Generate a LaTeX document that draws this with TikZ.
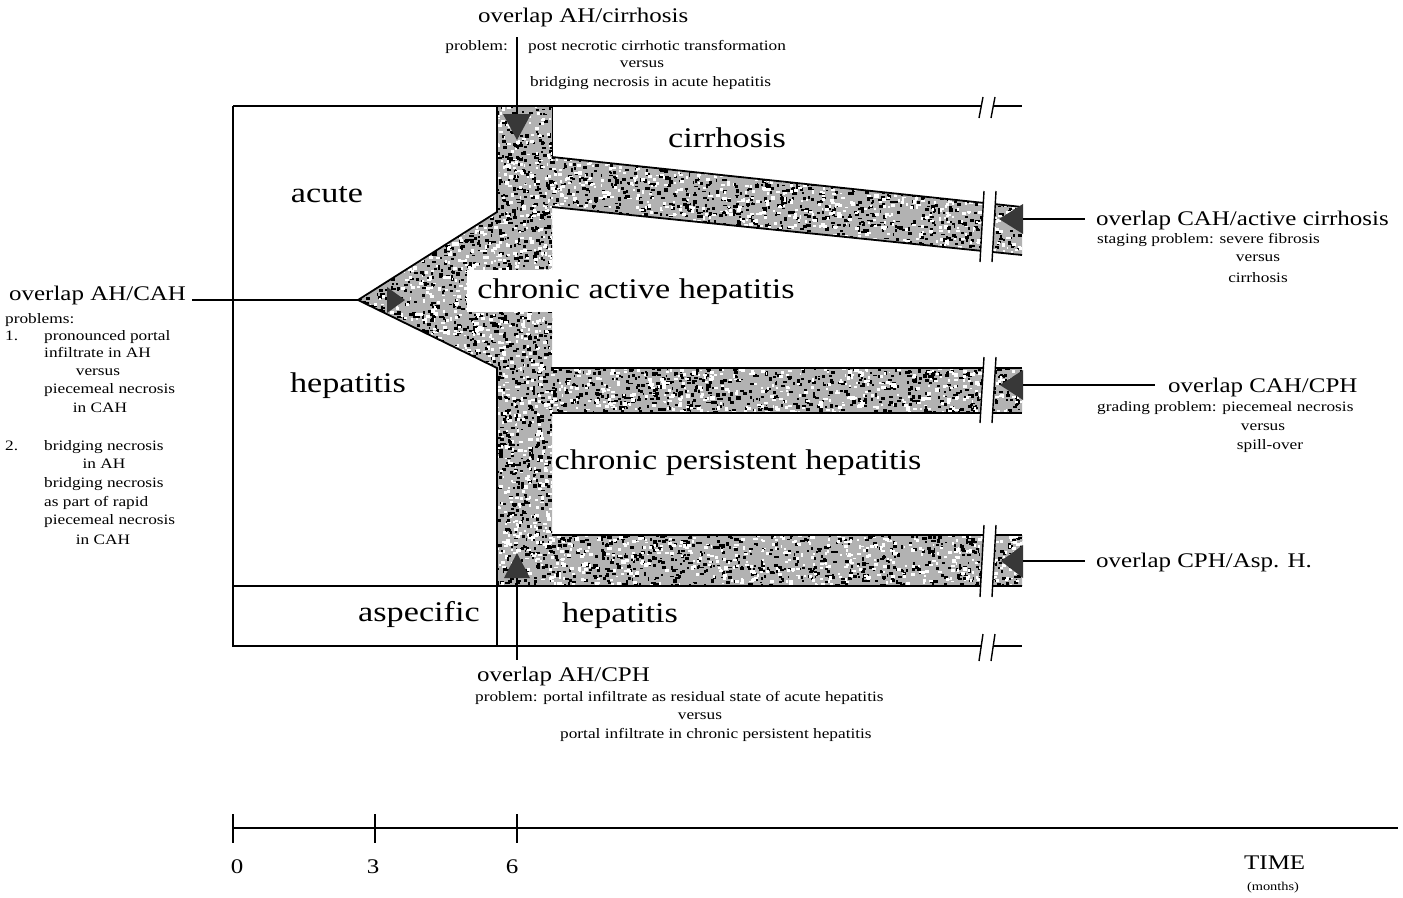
\documentclass[tikz,border=0pt]{standalone}
\usepackage{fontspec}
\setmainfont{Liberation Serif}[FakeStretch=1.2]
\newcommand{\mybreak}[3]{%
  \fill[white] ({#1-3},{#2}) -- ({#1+9},{#2}) -- ({#1+5},{#3}) -- ({#1-7},{#3}) -- cycle;
  \draw[brk] ({#1-3},{#2}) -- ({#1-7},{#3}) ({#1+9},{#2}) -- ({#1+5},{#3});}
\newcommand{\speckbox}[6]{% x0 y0 w h nblack nwhite
  \foreach \i in {1,...,#5}{\fill[black] ({#1+#3*rnd},{#2+#4*rnd}) rectangle ++({1.5+3*rnd},{1.5+2.2*rnd});}
  \foreach \i in {1,...,#6}{\fill[white] ({#1+#3*rnd},{#2+#4*rnd}) rectangle ++({1.5+2.8*rnd},{1.5+2*rnd});}}
\begin{document}
\begin{tikzpicture}[x=1pt,y=-1pt,
  big/.style={font=\fontsize{28.5}{34}\selectfont,inner sep=0pt},
  med/.style={font=\fontsize{20.8}{25}\selectfont,inner sep=0pt},
  sml/.style={font=\fontsize{14.4}{17}\selectfont,inner sep=0pt},
  tny/.style={font=\fontsize{12}{14}\selectfont,inner sep=0pt},
  frame/.style={line width=1.8pt},
  edge/.style={line width=1.8pt},
  conn/.style={line width=1.3pt},
  brk/.style={line width=1.4pt},
  tri/.style={fill=black!78}]
\useasboundingbox (0,0) rectangle (1403,897);
\pgfmathsetseed{4711}
\def\region{(497,106) -- (552,106) -- (552,157) -- (1022,207) -- (1022,255) -- (552,207) -- (552,368) -- (1022,368) -- (1022,413) -- (552,413) -- (552,535) -- (1022,535) -- (1022,586) -- (497,586) -- (497,368) -- (358,300) -- (497,212) -- cycle}
% stippled region
\fill[black!30] \region;
\begin{scope}
  \clip \region;
  \speckbox{356}{104}{198}{484}{2600}{1900}
  \speckbox{550}{155}{474}{102}{1300}{950}
  \speckbox{550}{366}{474}{49}{640}{460}
  \speckbox{550}{533}{474}{55}{710}{510}
\end{scope}
% white label box over the trunk
\node[big,fill=white,inner xsep=10pt,inner ysep=8pt,anchor=base] (cahlbl) at (636,298) {chronic active hepatitis};
% outlines of stippled region
\draw[edge] (497,106) -- (497,212) -- (358,300) -- (497,368) -- (497,586);
\draw[line width=0.8pt] (552,106) -- (552,157);
\draw[edge] (552,157) -- (1022,207);
\draw[edge] (552,207) -- (1022,255);
\draw[edge] (552,368) -- (1022,368);
\draw[edge] (552,413) -- (1022,413);
\draw[edge] (552,535) -- (1022,535);
% frame
\draw[frame] (233,106) -- (1022,106);
\draw[frame] (233,106) -- (233,646) -- (1022,646);
\draw[frame] (233,586) -- (1022,586);
\draw[frame] (497,586) -- (497,646);
% breaks
\mybreak{986}{97}{118}
\mybreak{987}{191}{262}
\mybreak{987}{357}{423}
\mybreak{987}{525}{597}
\mybreak{986}{634}{661}
% arrowheads
\fill[tri] (503,114) -- (531,114) -- (517,140) -- cycle;
\fill[tri] (504,578) -- (530,578) -- (517,553) -- cycle;
\fill[tri] (387,287) -- (387,313) -- (405,300) -- cycle;
\fill[tri] (1023,204) -- (1023,234) -- (999,219) -- cycle;
\fill[tri] (1023,370) -- (1023,400) -- (1000,385) -- cycle;
\fill[tri] (1023,545) -- (1023,578) -- (1001,561) -- cycle;
\coordinate (topEnd) at (517,37);
\coordinate (topTip) at (517,114);
\coordinate (botTip) at (517,578);
\coordinate (botEnd) at (517,660);
\coordinate (wtip) at (358,300);
\coordinate (r1) at (1023,219);
\coordinate (r2) at (1023,385);
\coordinate (r3) at (1023,561);
% region labels
\node[big,anchor=base] (acute) at (327,202) {acute};
\node[big,anchor=base] (hep1) at (348,392) {hepatitis};
\node[big,anchor=base] (cirr) at (727,147) {cirrhosis};
\node[big,anchor=base] (cph) at (738,469) {chronic persistent hepatitis};
\node[big,anchor=base] (asp) at (419,621) {aspecific};
\node[big,anchor=base] (hep2) at (620,622) {hepatitis};
% top annotation
\node[med,anchor=base west] (ahcir) at (478,22) {overlap AH/cirrhosis};
\node[sml,anchor=base east] (tp0) at (508,50) {problem:};
\node[sml,anchor=base west] (tp1) at (528,50) {post necrotic cirrhotic transformation};
\node[sml,anchor=base] (tp2) at (642,67) {versus};
\node[sml,anchor=base west] (tp3) at (530,86) {bridging necrosis in acute hepatitis};
% left annotation
\node[med,anchor=base west] (ahcah) at (9,300) {overlap AH/CAH};
\node[sml,anchor=base west] (pbs) at (5,323) {problems:};
\node[sml,anchor=base west] (n1) at (5,340) {1.};
\node[sml,anchor=base west] (l1a) at (44,340) {pronounced portal};
\node[sml,anchor=base west] (l1b) at (44,357) {infiltrate in AH};
\node[sml,anchor=base] (l1c) at (98,375) {versus};
\node[sml,anchor=base west] (l1d) at (44,393) {piecemeal necrosis};
\node[sml,anchor=base] (l1e) at (100,412) {in CAH};
\node[sml,anchor=base west] (n2) at (5,450) {2.};
\node[sml,anchor=base west] (l2a) at (44,450) {bridging necrosis};
\node[sml,anchor=base] (l2b) at (104,468) {in AH};
\node[sml,anchor=base west] (l2c) at (44,487) {bridging necrosis};
\node[sml,anchor=base west] (l2d) at (44,506) {as part of rapid};
\node[sml,anchor=base west] (l2e) at (44,524) {piecemeal necrosis};
\node[sml,anchor=base] (l2f) at (103,544) {in CAH};
% right annotations
\node[med,anchor=base west] (lr1) at (1096,225) {overlap CAH/active cirrhosis};
\node[sml,anchor=base west] (lr1a) at (1097,243) {staging problem: severe fibrosis};
\node[sml,anchor=base] (lr1b) at (1258,261) {versus};
\node[sml,anchor=base] (lr1c) at (1258,282) {cirrhosis};
\node[med,anchor=base west] (lr2) at (1168,392) {overlap CAH/CPH};
\node[sml,anchor=base west] (lr2a) at (1097,411) {grading problem: piecemeal necrosis};
\node[sml,anchor=base] (lr2b) at (1263,430) {versus};
\node[sml,anchor=base] (lr2c) at (1270,449) {spill-over};
\node[med,anchor=base west] (lr3) at (1096,567) {overlap CPH/Asp. H.};
% bottom annotation
\node[med,anchor=base west] (ahcph) at (477,681) {overlap AH/CPH};
\node[sml,anchor=base west] (bp1) at (475,701) {problem: portal infiltrate as residual state of acute hepatitis};
\node[sml,anchor=base] (bp2) at (700,719) {versus};
\node[sml,anchor=base west] (bp3) at (560,738) {portal infiltrate in chronic persistent hepatitis};
% connectors
\draw[conn] (topEnd) -- (topTip);
\draw[conn] (botTip) -- (botEnd);
\draw[conn] ([xshift=6pt]ahcah.east |- wtip) -- (wtip);
\draw[conn] (r1) -- ([xshift=-11pt]lr1.west |- r1);
\draw[conn] (r2) -- ([xshift=-13pt]lr2.west |- r2);
\draw[conn] (r3) -- ([xshift=-11pt]lr3.west |- r3);
% time axis
\coordinate (ax0) at (233,828);
\coordinate (ax3) at (375,828);
\coordinate (ax6) at (517,828);
\coordinate (axe) at (1398,828);
\draw[frame] (ax0) -- (axe);
\foreach \c in {ax0,ax3,ax6}{\draw[conn] ([yshift=14pt]\c) -- ([yshift=-15pt]\c);}
\node[med,anchor=base] (t0) at (237,873) {0};
\node[med,anchor=base] (t3) at (373,873) {3};
\node[med,anchor=base] (t6) at (512,873) {6};
\node[med,anchor=base west] (time) at (1244,869) {TIME};
\node[tny,anchor=base] (months) at (1273,890) {(months)};
\end{tikzpicture}
\end{document}
